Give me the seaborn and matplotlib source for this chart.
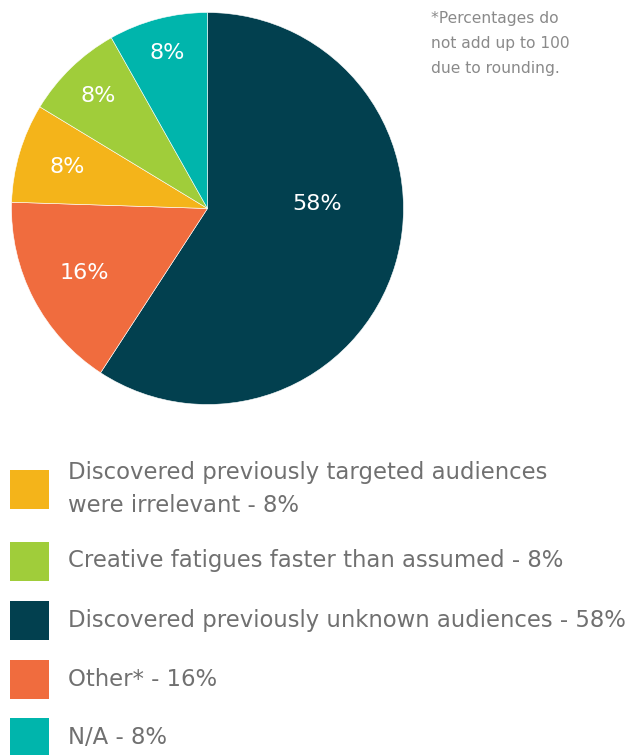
import numpy as np
import matplotlib
matplotlib.use("Agg")
import matplotlib.pyplot as plt
from matplotlib.patches import Rectangle
import seaborn as sns

# Survey outcome shares (percent, as reported; rounding leaves the sum at 98)
categories = [
    "Discovered previously unknown audiences",
    "Other*",
    "Discovered previously targeted audiences were irrelevant",
    "Creative fatigues faster than assumed",
    "N/A",
]
shares = [58, 16, 8, 8, 8]
slice_colors = ["#02404F", "#F06C3E", "#F4B41A", "#A0CD3A", "#00B5AC"]

# Legend entries in display order (index into the lists above) and their wording
legend_order = [2, 3, 0, 1, 4]
legend_text = {
    0: "Discovered previously unknown audiences - 58%",
    1: "Other* - 16%",
    2: "Discovered previously targeted audiences\nwere irrelevant - 8%",
    3: "Creative fatigues faster than assumed - 8%",
    4: "N/A - 8%",
}
footnote = "*Percentages do\nnot add up to 100\ndue to rounding."

sns.set_theme(style="white")
plt.rcParams["font.family"] = ["DejaVu Sans"]

W, H = 632, 755
fig = plt.figure(figsize=(W / 100, H / 100), dpi=100)
fig.patch.set_facecolor("white")

# Pie axes: centre (207.5, 208.5) px from top-left, radius 196 px
cx, cy, r = 207.5, 208.5, 196
ax = fig.add_axes([(cx - r) / W, (H - cy - r) / H, 2 * r / W, 2 * r / H])
palette = sns.color_palette(slice_colors)
wedges, _ = ax.pie(
    shares,
    colors=palette,
    startangle=90,
    counterclock=False,
    wedgeprops=dict(linewidth=0.4, edgecolor="white"),
)
ax.set_xlim(-1, 1)
ax.set_ylim(-1, 1)
ax.set_aspect("equal")
ax.axis("off")

# Value labels placed inside each wedge
label_radius = [0.56, 0.71, 0.745, 0.80, 0.82]
label_shift = [19, 0, 0, 0, 0]  # degrees
for w, val, rad, sh in zip(wedges, shares, label_radius, label_shift):
    mid = np.deg2rad((w.theta1 + w.theta2) / 2 + sh)
    ax.text(rad * np.cos(mid), rad * np.sin(mid), f"{val}%",
            color="white", fontsize=16, ha="center", va="center")

# Footnote
fig.text(431 / W, 1 - 11 / H, footnote, color="#8a8a8a", fontsize=11.2,
         ha="left", va="top", linespacing=1.82)

# Legend: colour swatches with descriptions
centers_y = [489, 561, 620, 679, 737]
sw = 39
for idx, yc in zip(legend_order, centers_y):
    fig.patches.append(Rectangle((10 / W, (H - yc - sw / 2) / H), sw / W, sw / H,
                                 transform=fig.transFigure,
                                 facecolor=palette[idx], edgecolor="none"))
    fig.text(68 / W, 1 - yc / H, legend_text[idx], color="#707070",
             fontsize=16.4, ha="left", va="center", linespacing=1.6)

fig.savefig("out.png", dpi=100, facecolor="white")
